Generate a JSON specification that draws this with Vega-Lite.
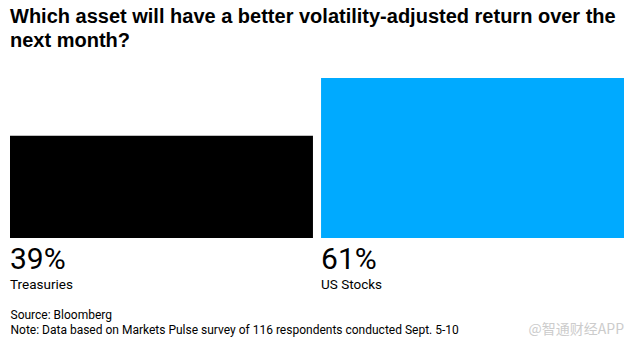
{
  "$schema": "https://vega.github.io/schema/vega-lite/v6.json",
  "autosize": {"type": "none"},
  "padding": {"left": 10, "top": 78, "right": 10, "bottom": 112},
  "width": 614,
  "height": 160,
  "background": "white",
  "config": {"view": {"stroke": null}},
  "title": {
    "text": ["Which asset will have a better volatility-adjusted return over the", "next month?"],
    "anchor": "start",
    "font": "Liberation Sans",
    "fontSize": 20,
    "fontWeight": "bold",
    "color": "#000000",
    "lineHeight": 24,
    "offset": 27
  },
  "data": {
    "values": [
      {"asset": "Treasuries", "pct": 39, "label": "39%", "color": "#000000"},
      {"asset": "US Stocks", "pct": 61, "label": "61%", "color": "#00AAFF"}
    ]
  },
  "encoding": {
    "x": {
      "field": "asset",
      "type": "nominal",
      "sort": null,
      "scale": {"paddingInner": 0.026, "paddingOuter": 0},
      "axis": {
        "labels": false,
        "ticks": false,
        "domain": false,
        "title": ["Source: Bloomberg", "Note: Data based on Markets Pulse survey of 116 respondents conducted Sept. 5-10"],
        "titleAnchor": "start",
        "titleAlign": "left",
        "titleFont": "Roboto",
        "titleFontSize": 12,
        "titleFontWeight": "normal",
        "titleColor": "#000000",
        "titleLineHeight": 15,
        "titlePadding": 71
      }
    }
  },
  "layer": [
    {
      "mark": {"type": "bar"},
      "encoding": {
        "y": {"field": "pct", "type": "quantitative", "scale": {"domain": [0, 61], "nice": false}, "axis": null},
        "color": {"field": "color", "type": "nominal", "scale": null}
      }
    },
    {
      "mark": {"type": "text", "align": "left", "baseline": "alphabetic", "dy": 31, "font": "Roboto", "fontSize": 30, "color": "#000000"},
      "encoding": {
        "x": {"field": "asset", "type": "nominal", "sort": null, "bandPosition": 0},
        "y": {"datum": 0, "type": "quantitative", "scale": {"domain": [0, 61], "nice": false}},
        "text": {"field": "label"}
      }
    },
    {
      "mark": {"type": "text", "align": "left", "baseline": "alphabetic", "dy": 51, "font": "Roboto", "fontSize": 13.5, "color": "#000000"},
      "encoding": {
        "x": {"field": "asset", "type": "nominal", "sort": null, "bandPosition": 0},
        "y": {"datum": 0, "type": "quantitative", "scale": {"domain": [0, 61], "nice": false}},
        "text": {"field": "asset"}
      }
    },
    {
      "data": {"values": [{"asset": "US Stocks", "mark": "@智通财经APP"}]},
      "mark": {"type": "text", "align": "right", "baseline": "alphabetic", "dy": 96, "font": "Noto Sans CJK SC", "fontSize": 14, "color": "#cccccc"},
      "encoding": {
        "x": {"field": "asset", "type": "nominal", "bandPosition": 1},
        "y": {"datum": 0, "type": "quantitative", "scale": {"domain": [0, 61], "nice": false}},
        "text": {"field": "mark"}
      }
    }
  ]
}
